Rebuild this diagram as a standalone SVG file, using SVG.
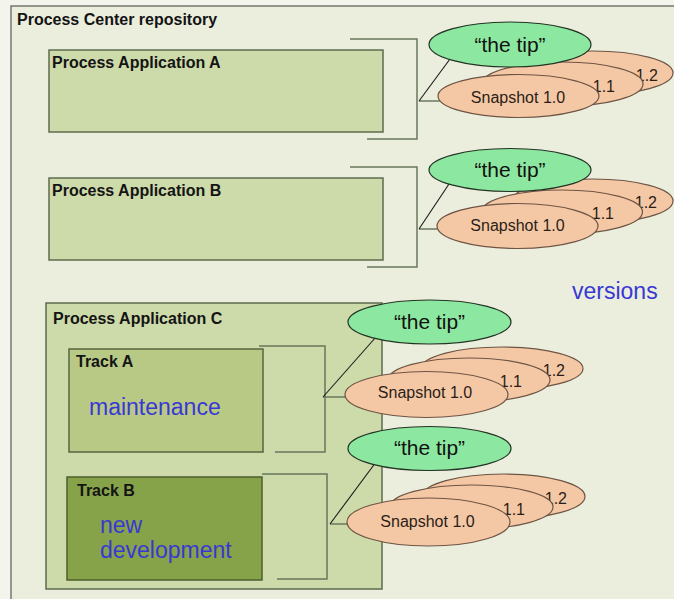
<svg xmlns="http://www.w3.org/2000/svg" width="674" height="599" viewBox="0 0 674 599">
  <defs>
    <style>
      .lbl { font-family: "Liberation Sans", Arial, sans-serif; font-weight: bold; font-size: 16px; fill: #141414; }
      .blue { font-family: "Liberation Sans", Arial, sans-serif; font-size: 23px; fill: #3838d4; }
      .app { fill: #cddaa9; stroke: #5d6b4d; stroke-width: 1.5; }
      .trackA { fill: #b8c985; stroke: #55653f; stroke-width: 1.5; }
      .trackB { fill: #87a34a; stroke: #4d5e2c; stroke-width: 1.5; }
      .bracket { fill: none; stroke: #69775c; stroke-width: 1.5; }
      .stub { fill: none; stroke: #69775c; stroke-width: 1.5; }
      .diag { fill: none; stroke: #1a1a1a; stroke-width: 1.1; }
      .tip { fill: #8ce8a0; stroke: #233323; stroke-width: 1.2; }
      .tiptxt { font-family: "Liberation Sans", Arial, sans-serif; font-size: 21px; fill: #111; text-anchor: middle; }
      .snap { fill: #f5c8a5; stroke: #6e5444; stroke-width: 1.2; }
      .snaptxt { font-family: "Liberation Sans", Arial, sans-serif; font-size: 16px; fill: #2a1d18; }
    </style>
  </defs>

  <!-- page background -->
  <rect x="0" y="0" width="674" height="599" fill="#f3f4eb"/>

  <!-- repository frame -->
  <g id="repository">
    <rect x="11" y="6" width="700" height="700" fill="#ebeedd" stroke="#77786e" stroke-width="1.5"/>
    <text class="lbl" x="17" y="25">Process Center repository</text>
    <text class="blue" x="572" y="299" font-size="23.5">versions</text>
  </g>

  <!-- process applications -->
  <g id="app-a">
    <rect class="app" x="49" y="50" width="334" height="82"/>
    <text class="lbl" x="52" y="68">Process Application A</text>
  </g>
  <g id="app-b">
    <rect class="app" x="49" y="178" width="334" height="82"/>
    <text class="lbl" x="52" y="196">Process Application B</text>
  </g>
  <g id="app-c">
    <rect class="app" x="46" y="303" width="336" height="286" fill="#cbd9a7"/>
    <text class="lbl" x="53" y="324">Process Application C</text>
  </g>
  <g id="track-a">
    <rect class="trackA" x="69" y="349" width="194" height="103"/>
    <text class="lbl" x="76" y="367" font-size="15">Track A</text>
    <text class="blue" x="89" y="415">maintenance</text>
  </g>
  <g id="track-b">
    <rect class="trackB" x="67" y="477" width="195" height="103"/>
    <text class="lbl" x="77" y="496" font-size="15">Track B</text>
    <text class="blue" x="100" y="533">new</text>
    <text class="blue" x="100" y="558">development</text>
  </g>

  <!-- brackets and links to versions -->
  <g id="connectors">
    <polyline class="bracket" points="350,39 417,39 417,139 367,139"/>
    <polyline class="bracket" points="350,167 417,167 417,267 367,267"/>
    <polyline class="bracket" points="259,346 325,346 325,452 275,452"/>
    <polyline class="bracket" points="262,474 327,474 327,579 277,579"/>
    <line class="stub" x1="419" y1="101" x2="440" y2="101"/>
    <line class="stub" x1="419" y1="229" x2="439" y2="229"/>
    <line class="stub" x1="323" y1="397" x2="346" y2="397"/>
    <line class="stub" x1="330" y1="524" x2="348" y2="524"/>
    <line class="diag" x1="419" y1="101" x2="450" y2="59"/>
    <line class="diag" x1="419" y1="229" x2="453" y2="178"/>
    <line class="diag" x1="323" y1="397" x2="376" y2="337"/>
    <line class="diag" x1="330" y1="524" x2="376" y2="462"/>
  </g>

  <!-- versions of Process Application A -->
  <g id="versions-a">
    <ellipse class="snap" cx="592.5" cy="73" rx="80.5" ry="22"/>
    <text class="snaptxt" x="658" y="81" text-anchor="end">1.2</text>
    <ellipse class="snap" cx="562.5" cy="84" rx="80.5" ry="22"/>
    <text class="snaptxt" x="615" y="92" text-anchor="end">1.1</text>
    <ellipse class="snap" cx="518.5" cy="96" rx="80.5" ry="21.5"/>
    <text class="snaptxt" x="518" y="103" text-anchor="middle">Snapshot 1.0</text>
    <ellipse class="tip" cx="510" cy="44.5" rx="81" ry="22.5"/>
    <text class="tiptxt" x="510" y="52">“the tip”</text>
  </g>

  <!-- versions of Process Application B -->
  <g id="versions-b">
    <ellipse class="snap" cx="592.5" cy="201" rx="80.5" ry="22"/>
    <text class="snaptxt" x="657" y="208" text-anchor="end">1.2</text>
    <ellipse class="snap" cx="562" cy="212" rx="80.5" ry="22"/>
    <text class="snaptxt" x="614" y="219" text-anchor="end">1.1</text>
    <ellipse class="snap" cx="517.5" cy="226" rx="80.5" ry="22.5"/>
    <text class="snaptxt" x="517.5" y="231" text-anchor="middle">Snapshot 1.0</text>
    <ellipse class="tip" cx="510" cy="170" rx="81" ry="21.5"/>
    <text class="tiptxt" x="510" y="177">“the tip”</text>
  </g>

  <!-- versions of Track A -->
  <g id="versions-track-a">
    <ellipse class="snap" cx="502" cy="368.5" rx="81" ry="21.5"/>
    <text class="snaptxt" x="565" y="376" text-anchor="end">1.2</text>
    <ellipse class="snap" cx="469" cy="380" rx="81" ry="22"/>
    <text class="snaptxt" x="522" y="387" text-anchor="end">1.1</text>
    <ellipse class="snap" cx="426.5" cy="394.5" rx="81.5" ry="23"/>
    <text class="snaptxt" x="425" y="398" text-anchor="middle">Snapshot 1.0</text>
    <ellipse class="tip" cx="429.5" cy="322" rx="81.5" ry="22"/>
    <text class="tiptxt" x="429.5" y="328.5">“the tip”</text>
  </g>

  <!-- versions of Track B -->
  <g id="versions-track-b">
    <ellipse class="snap" cx="503.5" cy="496.5" rx="81.5" ry="22.5"/>
    <text class="snaptxt" x="567" y="504" text-anchor="end">1.2</text>
    <ellipse class="snap" cx="471.5" cy="507" rx="81.5" ry="22"/>
    <text class="snaptxt" x="525" y="515" text-anchor="end">1.1</text>
    <ellipse class="snap" cx="428.5" cy="522" rx="81.5" ry="24"/>
    <text class="snaptxt" x="427.5" y="527" text-anchor="middle">Snapshot 1.0</text>
    <ellipse class="tip" cx="429.5" cy="448.5" rx="81.5" ry="22"/>
    <text class="tiptxt" x="429.5" y="455">“the tip”</text>
  </g>
</svg>
